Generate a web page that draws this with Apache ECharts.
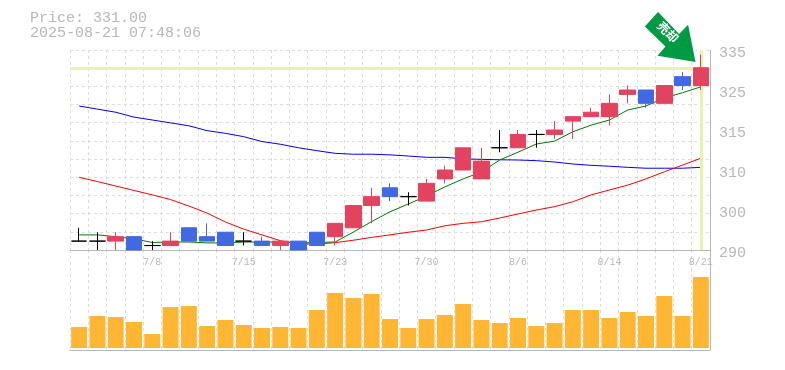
<!DOCTYPE html>
<html>
<head>
<meta charset="utf-8">
<style>html,body{margin:0;padding:0;background:#fff}#c{width:785px;height:370px}</style>
<script src="https://cdn.jsdelivr.net/npm/echarts@6/dist/echarts.min.js"></script>
</head>
<body>
<div id="c"></div>
<script>
const titleText = 'Price: 331.00\n2025-08-21 07:48:06';
const arrowText = '売却';
const dates = ['7/2','7/3','7/4','7/7','7/8','7/9','7/10','7/11','7/14','7/15','7/16','7/17','7/18','7/22','7/23','7/24','7/25','7/28','7/29','7/30','7/31','8/1','8/4','8/5','8/6','8/7','8/8','8/12','8/13','8/14','8/15','8/18','8/19','8/20','8/21'];
const shownDates = ['7/8','7/15','7/23','7/30','8/6','8/14','8/21'];
const priceLabels = [290,300,310,315,325,335];
const opens  = [292,292,292,293,291,291,295,293,294,292,292,291,292,294,293,295,300,304,302,301,306,308,306,313,313,316,316,319,320,320,325,326,323,329,327];
const closes = [292,292,293,290,291,292,292,292,291,292,291,292,290,291,296,300,302,302,302,305,308,313,310,313,316,316,317,320,321,323,326,323,327,327,331];
const lows   = [292,290,290,290,290,291,292,292,291,291,291,290,290,291,291,295,296,301,300,301,305,308,306,312,313,313,315,315,320,318,323,322,323,326,326];
const highs  = [295,294,294,293,292,294,295,296,294,294,293,292,292,294,296,300,304,305,303,306,309,313,313,317,317,317,319,320,322,325,327,326,327,330,334];
const maShort = [293.4,293.4,293,292.5,291.7,291.8,291.8,291.6,291.6,291.8,291.8,291.8,291.6,291.7,291.8,294.05,296.4,298.6,300.35,302.15,304.2,306,307.55,310.25,312,313.85,314.5,316.6,318.1,319.25,321.5,322.4,324.2,325.4,326.7];
const maMid = [306.35,305.4,304.4,303.4,302.4,301.35,299.9,298.3,296.3,294.7,293.4,292.1,291.35,291.35,291.65,292.2,292.85,293.4,294,294.5,295.45,296,296.35,297.2,298.1,299,299.75,300.85,302.4,303.5,304.6,306,307.6,309.1,310.65];
const maLong = [322.4,321.7,321,319.9,319.25,318.6,317.95,316.85,316.25,315.5,314.4,313.8,313,312.35,311.75,311.55,311.55,311.4,311.15,310.85,310.85,310.5,310.4,310.3,310.25,310.1,309.8,309.35,309.05,308.85,308.6,308.4,308.4,308.4,308.6];
const volumes = [21,32,31,26,14,41,42,22,28,23,20,21,20,38,55,50,54,29,20,29,33,44,28,25,30,22,25,38,38,30,36,32,52,32,71];
const lastPrice = 331;

const GRAY = '#b8b8b8', GRID = '#dddddd', MONO = '"Liberation Mono", monospace';
const dash = {color: GRID, width: 1, type: [3, 3]};
const candles = dates.map((d, i) => [opens[i], closes[i], lows[i], highs[i]]);
const line = (name, data, color) => ({name, type: 'line', data, xAxisIndex: 0, yAxisIndex: 0, symbol: 'none', z: 3,
  lineStyle: {color, width: 1}, itemStyle: {color}});

const chart = echarts.init(document.getElementById('c'), null, {renderer: 'canvas'});
chart.setOption({
  animation: false,
  backgroundColor: '#fff',
  title: {text: titleText, left: 25, top: 6, textStyle: {fontFamily: MONO, fontSize: 15, lineHeight: 15, fontWeight: 'normal', color: GRAY}},
  grid: [{left: 70, right: 75, top: 50, height: 200}, {left: 70, right: 75, top: 250, height: 100}],
  xAxis: [
    {type: 'category', gridIndex: 0, data: dates, boundaryGap: true,
      axisLine: {onZero: false, lineStyle: {color: GRAY, width: 1}}, axisTick: {show: false},
      axisLabel: {color: GRAY, fontFamily: MONO, fontSize: 10, margin: 7, hideOverlap: false,
        interval: (i, v) => shownDates.includes(v)},
      splitLine: {show: true, interval: 0, lineStyle: dash}},
    {type: 'category', gridIndex: 1, data: dates, boundaryGap: true,
      axisLine: {onZero: false, lineStyle: {color: GRAY, width: 1}}, axisTick: {show: false}, axisLabel: {show: false},
      splitLine: {show: true, interval: 0, lineStyle: dash}}
  ],
  yAxis: [
    {type: 'value', gridIndex: 0, min: 290, max: 335, show: false, splitLine: {show: false}},
    {type: 'value', gridIndex: 0, min: 0, max: 11, interval: 1, position: 'left',
      axisLine: {show: false}, axisTick: {show: false}, axisLabel: {show: false},
      splitLine: {show: true, lineStyle: dash}},
    {type: 'value', gridIndex: 0, min: 0, max: 5, interval: 1, position: 'right',
      axisLine: {show: true, lineStyle: {color: GRAY, width: 1}}, axisTick: {show: false}, splitLine: {show: false},
      axisLabel: {color: GRAY, fontFamily: MONO, fontSize: 15, margin: 9, verticalAlign: 'top', lineHeight: 7,
        formatter: (v) => String(priceLabels[v])}},
    {type: 'value', gridIndex: 1, min: -2, max: 98, position: 'right',
      axisLine: {show: true, lineStyle: {color: GRAY, width: 1}}, axisTick: {show: false},
      axisLabel: {show: false}, splitLine: {show: false}}
  ],
  series: [
    {name: 'guides', type: 'line', data: [], xAxisIndex: 0, yAxisIndex: 0, z: 2, symbol: 'none',
      markLine: {silent: true, symbol: 'none', label: {show: false}, animation: false,
        lineStyle: {color: '#e6f5a8', width: 3, type: 'solid'},
        data: [{yAxis: lastPrice}, {xAxis: dates[dates.length - 1]}]}},
    line('long', maLong, '#0000ff'),
    line('mid', maMid, '#ff0000'),
    line('short', maShort, '#007a00'),
    {name: 'price', type: 'candlestick', data: candles, xAxisIndex: 0, yAxisIndex: 0, barWidth: 16, z: 5,
      itemStyle: {color: '#e2445f', color0: '#4169e1', borderColor: '#e2445f', borderColor0: '#4169e1',
        borderColorDoji: '#000000', borderWidth: 1},
      markPoint: {silent: true, animation: false, z: 6,
        data: [{coord: [dates[dates.length - 1], lastPrice],
          symbol: 'path://M658.3 12.3L645 26.7L665.7 46.7L657.7 56L695.7 62.3L688.3 25L679.3 34.3Z',
          symbolSize: [50.7, 50], symbolOffset: [-30.7, -30.7], symbolKeepAspect: false,
          itemStyle: {color: '#009944'},
          label: {show: true, formatter: arrowText, position: 'inside', rotate: -45, offset: [-5, -2],
            color: '#fff', fontSize: 12, fontWeight: 'bold', fontFamily: '"Noto Sans CJK JP"'}}]}},
    {name: 'volume', type: 'bar', data: volumes, xAxisIndex: 1, yAxisIndex: 3, barWidth: 16,
      itemStyle: {color: '#ffb733'}}
  ]
});
</script>
</body>
</html>
